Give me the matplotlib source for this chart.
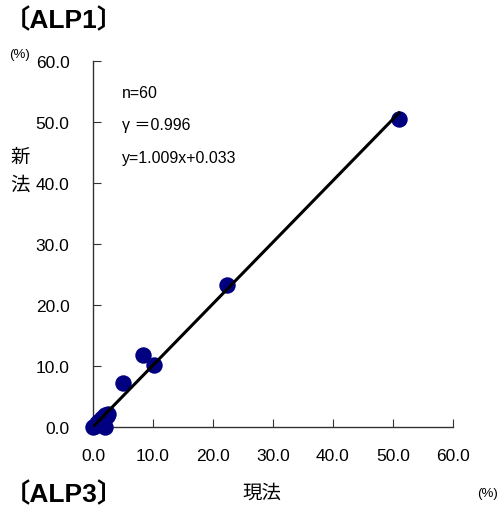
import matplotlib
matplotlib.use("Agg")
import matplotlib.pyplot as plt
import numpy as np

plt.rcParams['font.family'] = ['Liberation Sans', 'Noto Sans CJK JP', 'DejaVu Sans']

# data
current = [0.0, 0.3, 0.6, 1.0, 1.5, 2.0, 2.3, 2.5, 2.0, 5.0, 8.3, 10.2, 22.3, 51.0]
new = [0.0, 0.2, 0.6, 1.0, 1.5, 2.0, 1.8, 2.2, 0.0, 7.2, 11.8, 10.2, 23.3, 50.5]
slope, intercept = 1.009, 0.033
line_x = [0.0, 51.0]
ticks = [0, 10, 20, 30, 40, 50, 60]
tick_labels = ["0.0", "10.0", "20.0", "30.0", "40.0", "50.0", "60.0"]

fig = plt.figure(figsize=(4.99, 5.10), dpi=100)
ax = fig.add_axes([93/499, 82/510, 360/499, 366/510])

ax.scatter(current, new, s=140, color='#000080', zorder=3, clip_on=False, linewidths=0)
lx = np.array(line_x)
ax.plot(lx, slope*lx + intercept, color='black', lw=2.2, zorder=4)

ax.set_xlim(0, 60)
ax.set_ylim(0, 60)
ax.set_xticks(ticks)
ax.set_xticklabels(tick_labels)
ax.set_yticks(ticks)
ax.set_yticklabels(tick_labels)
for s in ['top', 'right']:
    ax.spines[s].set_visible(False)
for s in ['left', 'bottom']:
    ax.spines[s].set_linewidth(1.0)
    ax.spines[s].set_color('#333333')
ax.tick_params(direction='in', length=6, labelsize=12.5, color='#333333')
ax.tick_params(axis='x', pad=15)
ax.tick_params(axis='y', pad=17)

ax.text(0.08, 0.915, "n=60", transform=ax.transAxes, fontsize=11.5, va='center')
ax.text(0.08, 0.827, "γ ＝0.996", transform=ax.transAxes, fontsize=11.5, va='center')
ax.text(0.08, 0.737, "y=1.009x+0.033", transform=ax.transAxes, fontsize=11.5, va='center')

fig.text(4/499, 1 - 20/510, "〔ALP1〕", fontsize=19, va='center', ha='left', fontweight='bold')
fig.text(9/499, 1 - 55/510, "(%)", fontsize=9.5, va='center', ha='left')
fig.text(10/499, 1 - 158/510, "新", fontsize=14, va='center', ha='left')
fig.text(10/499, 1 - 186/510, "法", fontsize=14, va='center', ha='left')
fig.text(4/499, 1 - 494/510, "〔ALP3〕", fontsize=19, va='center', ha='left', fontweight='bold')
fig.text(262/499, 1 - 494/510, "現法", fontsize=14, va='center', ha='center')
fig.text(487/499, 1 - 494/510, "(%)", fontsize=9.5, va='center', ha='center')

fig.savefig("out.png", dpi=100)
